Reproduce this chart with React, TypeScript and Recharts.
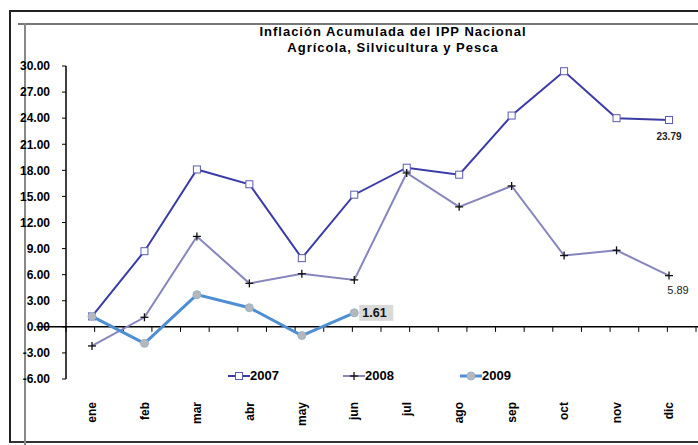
import React from "react";
import {
  LineChart,
  Line,
  XAxis,
  YAxis,
  ReferenceLine,
  LabelList,
  Legend,
} from "recharts";

const meses = ["ene", "feb", "mar", "abr", "may", "jun", "jul", "ago", "sep", "oct", "nov", "dic"];
const serie2007 = [1.2, 8.7, 18.1, 16.4, 7.9, 15.2, 18.3, 17.5, 24.3, 29.4, 24.0, 23.79];
const serie2008 = [-2.2, 1.1, 10.4, 5.0, 6.1, 5.4, 17.7, 13.8, 16.2, 8.2, 8.8, 5.89];
const serie2009 = [1.2, -1.9, 3.7, 2.2, -1.0, 1.61];
const yTicks = [-6, -3, 0, 3, 6, 9, 12, 15, 18, 21, 24, 27, 30];

const data = meses.map((m, i) => ({
  m,
  a2007: serie2007[i],
  a2008: serie2008[i],
  a2009: i < serie2009.length ? serie2009[i] : null,
}));

const FONT = "'Liberation Sans', Arial, sans-serif";
const C2007 = "#3b3ba6";
const C2008 = "#8686bd";
const C2009 = "#4d8fd2";

const SquareDot = (p: any) => {
  if (p.cx == null || p.cy == null) return null;
  return <rect x={p.cx - 3.5} y={p.cy - 3.5} width={7} height={7} fill="#fff" stroke="#5a5ab4" strokeWidth={1} />;
};

const PlusDot = (p: any) => {
  if (p.cx == null || p.cy == null) return null;
  return (
    <g stroke="#111" strokeWidth={1.3}>
      <line x1={p.cx - 4} y1={p.cy} x2={p.cx + 4} y2={p.cy} />
      <line x1={p.cx} y1={p.cy - 4} x2={p.cx} y2={p.cy + 4} />
    </g>
  );
};

const CircleDot = (p: any) => {
  if (p.cx == null || p.cy == null) return null;
  return <circle cx={p.cx} cy={p.cy} r={4} fill="#b4b8bd" stroke="#9fb3c8" strokeWidth={1} />;
};

const MonthTick = (p: any) => {
  const { x, y, payload } = p;
  const ty = y + 15;
  return (
    <text
      x={x}
      y={ty}
      dy="0.35em"
      transform={`rotate(-90, ${x}, ${ty})`}
      textAnchor="end"
      fontFamily={FONT}
      fontWeight="bold"
      fontSize={12}
      fill="#000"
    >
      {payload.value}
    </text>
  );
};

// linea del cero con marcas cada media categoria (x1/x2 = primer y ultimo mes)
const ZeroLine = (p: any) => {
  const { x1, y1, x2 } = p;
  const band = (x2 - x1) / (meses.length - 1);
  const start = x1 - band / 2;
  const marks = [];
  for (let i = 1; i <= meses.length * 2; i++) {
    const x = start + (i * band) / 2;
    marks.push(<line key={i} x1={x} y1={y1} x2={x} y2={y1 + 5} stroke="#000" />);
  }
  return (
    <g>
      <line x1={start - 1} y1={y1} x2={start + band * meses.length + 2} y2={y1} stroke="#000" strokeWidth={1.5} />
      {marks}
    </g>
  );
};

const lastLabel = (idx: number, text: string, dx: number, dy: number, size: number, bold: boolean) => (p: any) => {
  if (p.index !== idx) return null;
  return (
    <text
      x={p.x + dx}
      y={p.y + dy}
      textAnchor="middle"
      fontFamily={FONT}
      fontSize={size}
      fontWeight={bold ? "bold" : "normal"}
      fill="#222"
    >
      {text}
    </text>
  );
};

const Label2009 = (p: any) => {
  if (p.index !== serie2009.length - 1) return null;
  return (
    <g>
      <rect x={p.x + 5} y={p.y - 8} width={34} height={16} fill="#d9d9d9" />
      <text x={p.x + 8} y={p.y + 4.5} fontFamily={FONT} fontSize={12.5} fontWeight="bold" fill="#111">
        {serie2009[serie2009.length - 1].toFixed(2)}
      </text>
    </g>
  );
};

const legendItems = [
  { name: "2007", color: C2007, left: 228, marker: "square" },
  { name: "2008", color: C2008, left: 343, marker: "plus" },
  { name: "2009", color: C2009, left: 460, marker: "circle" },
];

const LegendBox = () => (
  <div style={{ position: "relative", height: 16 }}>
    {legendItems.map((it) => (
      <div key={it.name} style={{ position: "absolute", left: it.left, top: 0, display: "flex", alignItems: "center" }}>
        <svg width={22} height={14}>
          <line x1={0} y1={7} x2={22} y2={7} stroke={it.color} strokeWidth={it.marker === "circle" ? 3 : 2} />
          {it.marker === "square" && <rect x={7.5} y={3.5} width={7} height={7} fill="#fff" stroke="#5a5ab4" />}
          {it.marker === "plus" && (
            <g stroke="#111" strokeWidth={1.3}>
              <line x1={7} y1={7} x2={15} y2={7} />
              <line x1={11} y1={3} x2={11} y2={11} />
            </g>
          )}
          {it.marker === "circle" && <circle cx={11} cy={7} r={4} fill="#b4b8bd" stroke="#9fb3c8" />}
        </svg>
        <span style={{ fontFamily: FONT, fontWeight: "bold", fontSize: 13, color: "#000", lineHeight: "14px" }}>{it.name}</span>
      </div>
    ))}
  </div>
);

export default function App() {
  return (
    <div style={{ position: "absolute", left: 0, top: 0, width: 698, height: 445, background: "#fff", overflow: "hidden" }}>
      {/* marcos */}
      <div style={{ position: "absolute", left: 9, top: 10, width: 700, height: 429, borderLeft: "2px solid #222", borderTop: "2px solid #222", borderBottom: "2px solid #333" }} />
      <div style={{ position: "absolute", left: 18, top: 23, width: 690, height: 2, background: "#777" }} />
      <div style={{ position: "absolute", left: 24, top: 23, width: 2, height: 430, background: "#888" }} />
      <div
        style={{
          position: "absolute",
          left: 193,
          top: 24,
          width: 400,
          textAlign: "center",
          fontFamily: FONT,
          fontWeight: "bold",
          fontSize: 13,
          letterSpacing: 1,
          lineHeight: "16px",
          color: "#000",
        }}
      >
        Inflación Acumulada del IPP Nacional
        <br />
        Agrícola, Silvicultura y Pesca
      </div>
      <LineChart width={698} height={445} data={data} margin={{ top: 66, right: 2, left: 0, bottom: 0 }} style={{ position: "absolute", left: 0, top: 0 }}>
        <XAxis
          dataKey="m"
          height={50}
          padding={{ left: 26, right: 27 }}
          axisLine={false}
          tickLine={false}
          interval={0}
          tick={<MonthTick />}
        />
        <YAxis
          width={66}
          domain={[-6, 30]}
          ticks={yTicks}
          interval={0}
          tickFormatter={(v: number) => v.toFixed(2)}
          tick={{ fontFamily: FONT, fontWeight: "bold", fontSize: 12, fill: "#000" }}
          tickSize={4}
          tickMargin={12}
          axisLine={{ stroke: "#000", strokeWidth: 1.5 }}
          tickLine={{ stroke: "#000" }}
        />
        <ReferenceLine y={0} shape={<ZeroLine />} />
        <Line dataKey="a2007" stroke={C2007} strokeWidth={2} dot={<SquareDot />} isAnimationActive={false}>
          <LabelList dataKey="a2007" content={lastLabel(11, "23.79", 0, 20, 10, true)} />
        </Line>
        <Line dataKey="a2008" stroke={C2008} strokeWidth={2} dot={<PlusDot />} isAnimationActive={false}>
          <LabelList dataKey="a2008" content={lastLabel(11, "5.89", 9, 18, 11, false)} />
        </Line>
        <Line dataKey="a2009" stroke={C2009} strokeWidth={3} dot={<CircleDot />} isAnimationActive={false} connectNulls={false}>
          <LabelList dataKey="a2009" content={<Label2009 />} />
        </Line>
        <Legend content={<LegendBox />} wrapperStyle={{ position: "absolute", left: 0, top: 369, width: 698 }} />
      </LineChart>
    </div>
  );
}
